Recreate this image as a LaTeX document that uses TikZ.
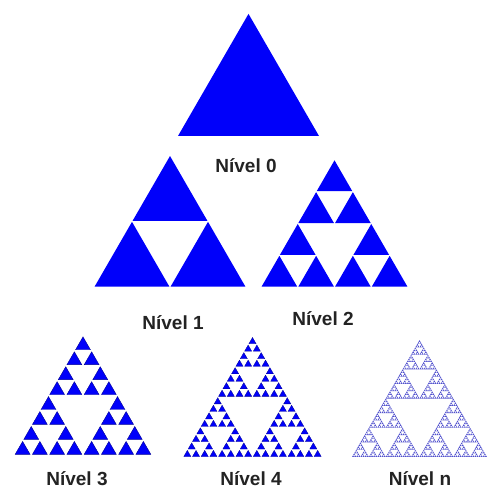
\documentclass[tikz,border=0pt]{standalone}
\usepackage{fontspec}
\setmainfont{Liberation Sans}
\definecolor{sblue}{RGB}{0,0,250}
\definecolor{nblue}{RGB}{80,80,205}
\definecolor{navy}{RGB}{0,0,150}
\definecolor{lbl}{RGB}{35,35,35}
\def\sshrink{1}
\newcommand\sierpdraw[4]{%
  \ifnum#1=0
    \pgfmathsetmacro\scx{#2+#4/2}%
    \pgfmathsetmacro\scy{#3+#4*0.2886751}%
    \path[tri, shift={(\scx,\scy)}, scale=\sshrink, shift={(-\scx,-\scy)}]
      (#2,#3) -- ++(#4,0) -- ++(120:#4) -- cycle;
  \else
    \begingroup
    \pgfmathsetmacro\shs{#4/2}%
    \pgfmathtruncatemacro\snl{#1-1}%
    \pgfmathsetmacro\sxm{#2+\shs}%
    \pgfmathsetmacro\sxq{#2+\shs/2}%
    \pgfmathsetmacro\sym{#3+\shs*0.8660254}%
    \edef\sdo{\noexpand\sierpdraw{\snl}{#2}{#3}{\shs}%
      \noexpand\sierpdraw{\snl}{\sxm}{#3}{\shs}%
      \noexpand\sierpdraw{\snl}{\sxq}{\sym}{\shs}}%
    \sdo
    \endgroup
  \fi}
\tikzset{
  lab/.style={anchor=base, text=lbl, font=\fontsize{19}{21}\selectfont\bfseries, inner sep=0pt},
  tri/.style={fill=sblue}
}
\begin{document}
\begin{tikzpicture}[x=1pt,y=1pt]
\useasboundingbox (0,0) rectangle (488,489);
% Nivel 0
\sierpdraw{0}{178}{353}{141}
\node[lab] (l0) at (246,316) {Nível 0};
% Nivel 1
\def\sshrink{0.985}
\sierpdraw{1}{94}{202}{152}
\node[lab] (l1) at (173,159) {Nível 1};
% Nivel 2
\def\sshrink{0.97}
\sierpdraw{2}{261}{202}{147}
\node[lab] (l2) at (323,163) {Nível 2};
% Nivel 3
\def\sshrink{0.86}
\begin{scope}[tri/.style={fill=sblue, draw=navy, line width=0.4pt}]
\sierpdraw{3}{14}{34}{138}
\end{scope}
\node[lab] (l3) at (77,4) {Nível 3};
% Nivel 4
\def\sshrink{0.82}
\begin{scope}[tri/.style={fill=sblue, draw=navy, line width=0.3pt}]
\sierpdraw{4}{183}{32}{139}
\end{scope}
\node[lab] (l4) at (251,4) {Nível 4};
% Nivel n
\def\sshrink{0.94}
\begin{scope}[tri/.style={fill=nblue}]
\sierpdraw{6}{352}{32}{135}
\end{scope}
\node[lab] (ln) at (420,4) {Nível n};
\end{tikzpicture}
\end{document}
